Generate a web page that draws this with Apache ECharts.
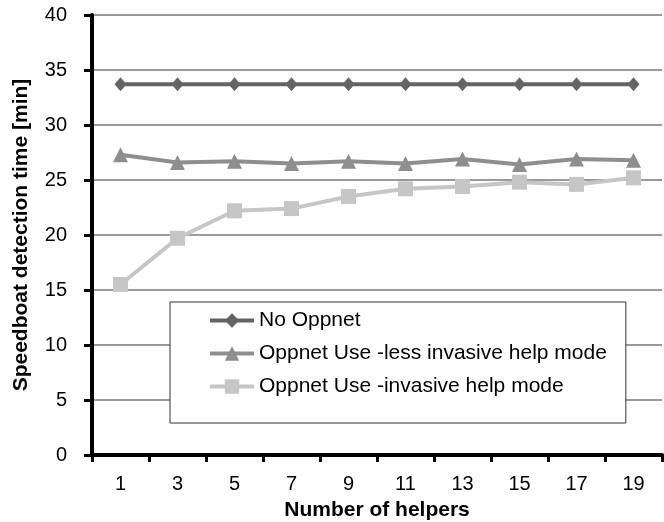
<!DOCTYPE html>
<html>
<head>
<meta charset="utf-8">
<script src="https://cdn.jsdelivr.net/npm/echarts@6/dist/echarts.min.js"></script>
<style>
html,body{margin:0;padding:0;background:#fff;}
#chart{width:664px;height:522px;}
</style>
</head>
<body>
<div id="chart"></div>
<script>
const categories = ['1','3','5','7','9','11','13','15','17','19'];
const seriesNames = ['No Oppnet','Oppnet Use -less invasive help mode','Oppnet Use -invasive help mode'];
const noOppnet = [33.7,33.7,33.7,33.7,33.7,33.7,33.7,33.7,33.7,33.7];
const lessInvasive = [27.3,26.6,26.7,26.5,26.7,26.5,26.9,26.4,26.9,26.8];
const invasive = [15.5,19.7,22.2,22.4,23.5,24.2,24.4,24.8,24.6,25.2];
const xTitle = 'Number of helpers';
const yTitle = 'Speedboat detection time [min]';

const FONT = '"Liberation Sans", Arial, sans-serif';
const chart = echarts.init(document.getElementById('chart'), null, {renderer:'canvas'});
chart.setOption({
  animation:false,
  backgroundColor:'#ffffff',
  grid:{left:92, right:2, top:15, bottom:67, containLabel:false, outerBoundsMode:'none'},
  legend:{
    orient:'vertical', left:170, top:302,
    data:seriesNames,
    backgroundColor:'#ffffff', borderColor:'#333333', borderWidth:1,
    padding:[8,19,26,38],
    itemWidth:44, itemHeight:18, itemGap:12,
    lineStyle:{width:4},
    textStyle:{fontFamily:FONT, fontSize:21, color:'#000', lineHeight:19},
    selectedMode:false
  },
  xAxis:{
    type:'category', data:categories, boundaryGap:true,
    name:xTitle, nameLocation:'middle', nameGap:45,
    nameTextStyle:{fontFamily:FONT, fontSize:21, fontWeight:'bold', color:'#000'},
    axisLine:{lineStyle:{color:'#000', width:4}},
    axisTick:{show:true, alignWithLabel:false, interval:0, length:7, lineStyle:{color:'#000', width:3}},
    axisLabel:{fontFamily:FONT, fontSize:20, color:'#000', margin:19, interval:0},
    splitLine:{show:false}
  },
  yAxis:{
    type:'value', min:0, max:40, interval:5,
    name:yTitle, nameLocation:'middle', nameGap:60,
    nameTextStyle:{fontFamily:FONT, fontSize:21, fontWeight:'bold', color:'#000'},
    axisLine:{show:true, lineStyle:{color:'#000', width:4}},
    axisTick:{show:true, length:8, lineStyle:{color:'#000', width:3}},
    axisLabel:{fontFamily:FONT, fontSize:20, color:'#000', margin:25},
    splitLine:{show:true, lineStyle:{color:'#9a9a9a', width:2}}
  },
  series:[
    {name:seriesNames[0], type:'line', data:noOppnet, symbol:'diamond', symbolSize:[12,14],
     lineStyle:{color:'#646464', width:4}, itemStyle:{color:'#646464'}, z:3},
    {name:seriesNames[1], type:'line', data:lessInvasive, symbol:'triangle', symbolSize:[15,15],
     lineStyle:{color:'#8e8e90', width:4}, itemStyle:{color:'#8e8e90'}, z:4},
    {name:seriesNames[2], type:'line', data:invasive, symbol:'rect', symbolSize:15,
     lineStyle:{color:'#c6c6c6', width:4}, itemStyle:{color:'#c6c6c6'}, z:5}
  ]
});
</script>
</body>
</html>
